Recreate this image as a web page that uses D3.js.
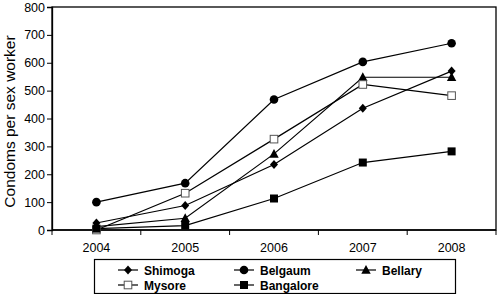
<!DOCTYPE html>
<html>
<head>
<meta charset="utf-8">
<script src="https://cdn.jsdelivr.net/npm/d3@7"></script>
<style>
  html, body { margin: 0; padding: 0; background: #fff; }
  svg { display: block; font-family: 'Liberation Sans', Arial, sans-serif; }
</style>
</head>
<body>
<svg id="chart" width="498" height="294"></svg>
<script>
const years = ['2004', '2005', '2006', '2007', '2008']
const yTicks = [0, 100, 200, 300, 400, 500, 600, 700, 800]

const shimoga = [25, 88, 235, 437, 570]
const belgaum = [100, 168, 468, 603, 670]
const bellary = [12, 42, 273, 548, 548]
const mysore = [0, 132, 326, 522, 482]
const bangalore = [5, 16, 113, 242, 282]

const series = [
  { name: 'Shimoga', values: shimoga, symbol: 'diamond' },
  { name: 'Belgaum', values: belgaum, symbol: 'circle' },
  { name: 'Bellary', values: bellary, symbol: 'triangle' },
  { name: 'Mysore', values: mysore, symbol: 'openSquare' },
  { name: 'Bangalore', values: bangalore, symbol: 'square' }
]

const svg = d3.select('#chart')
const margin = { top: 7, right: 2, bottom: 64, left: 52 }
const width = 498, height = 294
const innerW = width - margin.left - margin.right
const innerH = height - margin.top - margin.bottom

const g = svg.append('g').attr('transform', `translate(${margin.left},${margin.top})`)

const x = d3.scaleBand().domain(years).range([0, innerW])
const y = d3.scaleLinear().domain([0, 800]).range([innerH, 0])

// frame
g.append('rect')
  .attr('x', 0).attr('y', 0)
  .attr('width', innerW).attr('height', innerH)
  .attr('fill', 'none').attr('stroke', '#000').attr('stroke-width', 1.3)

// y axis
const yAxis = g.append('g')
  .call(d3.axisLeft(y).tickValues(yTicks).tickSize(5).tickPadding(2))
yAxis.select('.domain').attr('stroke-width', 1.3)
yAxis.selectAll('text').attr('font-size', 12.5).attr('font-family', 'Liberation Sans, Arial, sans-serif').attr('fill', '#000')

// x axis: ticks at band boundaries
const xAxis = g.append('g').attr('transform', `translate(0,${innerH})`)
xAxis.append('line').attr('x1', 0).attr('x2', innerW).attr('stroke', '#000').attr('stroke-width', 1.3)
xAxis.selectAll('line.tick')
  .data(years.concat(['end']))
  .enter().append('line')
  .attr('class', 'tick')
  .attr('x1', (d, i) => i * x.step()).attr('x2', (d, i) => i * x.step())
  .attr('y1', 0).attr('y2', 5)
  .attr('stroke', '#000')
xAxis.selectAll('text')
  .data(years)
  .enter().append('text')
  .attr('x', d => x(d) + x.bandwidth() / 2)
  .attr('y', 22)
  .attr('text-anchor', 'middle')
  .attr('font-size', 12.5)
  .text(d => d)

svg.append('text')
  .attr('transform', `translate(15,${margin.top + innerH / 2 + 3}) rotate(-90)`)
  .attr('text-anchor', 'middle')
  .attr('font-size', 15.5)
  .text('Condoms per sex worker')

function drawSymbol(sel, symbol) {
  if (symbol === 'diamond') {
    sel.append('path').attr('d', 'M0,-4.5L4,0L0,4.5L-4,0Z').attr('fill', '#000')
  } else if (symbol === 'circle') {
    sel.append('circle').attr('r', 4.3).attr('fill', '#000')
  } else if (symbol === 'triangle') {
    sel.append('path').attr('d', 'M0,-5L4.7,3.8L-4.7,3.8Z').attr('fill', '#000')
  } else if (symbol === 'openSquare') {
    sel.append('rect').attr('x', -3.8).attr('y', -3.8).attr('width', 7.6).attr('height', 7.6)
      .attr('fill', '#fff').attr('stroke', '#555').attr('stroke-width', 1)
  } else {
    sel.append('rect').attr('x', -4).attr('y', -4).attr('width', 8).attr('height', 8).attr('fill', '#000')
  }
}

const line = d3.line()
  .x((d, i) => x(years[i]) + x.bandwidth() / 2)
  .y(d => y(d))

series.forEach(s => {
  g.append('path')
    .datum(s.values)
    .attr('fill', 'none')
    .attr('stroke', '#000')
    .attr('stroke-width', 1.2)
    .attr('d', line)
})

series.forEach(s => {
  s.values.forEach((v, i) => {
    const m = g.append('g')
      .attr('transform', `translate(${x(years[i]) + x.bandwidth() / 2},${y(v)})`)
    drawSymbol(m, s.symbol)
  })
})

// legend
const legend = svg.append('g')
legend.append('rect')
  .attr('x', 94.5).attr('y', 259.5)
  .attr('width', 361).attr('height', 34)
  .attr('fill', '#fff').attr('stroke', '#000').attr('stroke-width', 1.2)

const legendPos = [
  { x: 128, y: 270 }, { x: 244, y: 270 }, { x: 366, y: 270 },
  { x: 128, y: 285 }, { x: 244, y: 285 }
]

series.forEach((s, i) => {
  const p = legendPos[i]
  const item = legend.append('g').attr('transform', `translate(${p.x},${p.y})`)
  item.append('line').attr('x1', -10).attr('x2', 10).attr('stroke', '#000').attr('stroke-width', 1.2)
  drawSymbol(item, s.symbol)
  item.append('text')
    .attr('x', 16).attr('y', 4.5)
    .attr('font-size', 12)
    .attr('font-weight', 'bold')
    .text(s.name)
})
</script>
</body>
</html>
